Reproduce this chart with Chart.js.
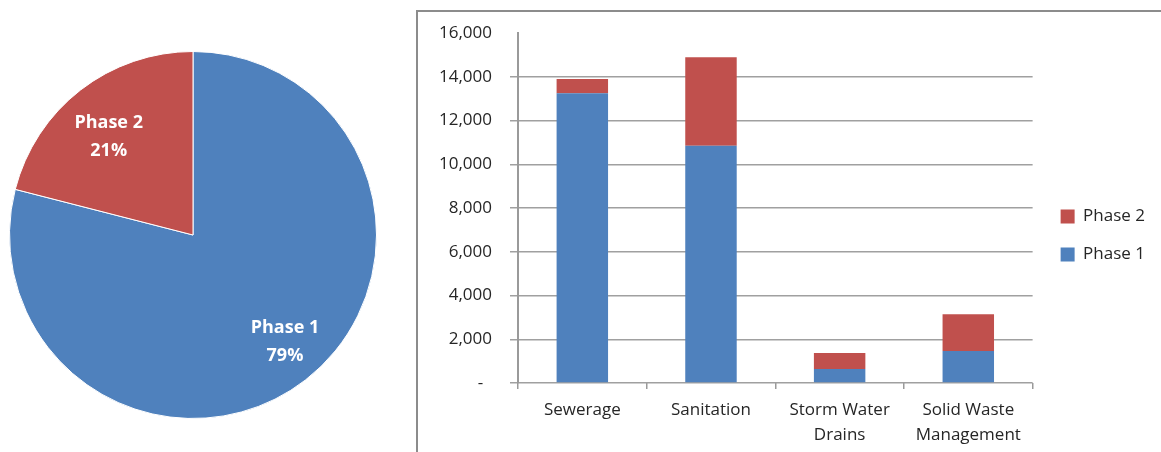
<!DOCTYPE html>
<html>
<head>
<meta charset="utf-8">
<script src="https://cdn.jsdelivr.net/npm/chart.js@4.4.1/dist/chart.umd.min.js"></script>
<style>
  html, body { margin: 0; padding: 0; background: #fff; width: 1161px; height: 452px; overflow: hidden; }
  #pie-wrap { position: absolute; left: 8px; top: 50px; width: 370px; height: 370px; }
  #frame { position: absolute; left: 416px; top: 10px; width: 800px; height: 500px; border: 2px solid #8c8c8c; box-sizing: border-box; }
  #bar-wrap { position: absolute; left: 420px; top: 5px; width: 741px; height: 447px; }
</style>
</head>
<body>
<div id="pie-wrap"><canvas id="pieChart"></canvas></div>
<div id="frame"></div>
<div id="bar-wrap"><canvas id="barChart"></canvas></div>
<script>
// Data
const categories = ['Sewerage', 'Sanitation', ['Storm Water', 'Drains'], ['Solid Waste', 'Management']];
const phase1 = [13250, 10850, 640, 1460];
const phase2 = [650, 4050, 730, 1690];
const pieLabels = ['Phase 1', 'Phase 2'];
const pieShares = [79, 21];
const yTicks = [0, 2000, 4000, 6000, 8000, 10000, 12000, 14000, 16000];

const BLUE = '#4f81bd';
const RED = '#c0504d';
const TEXT = '#262626';
const FONT = "'Open Sans', 'Noto Sans', sans-serif";

// white labels inside pie slices
const sliceLabels = {
  id: 'sliceLabels',
  afterDatasetsDraw(chart) {
    const ctx = chart.ctx;
    const meta = chart.getDatasetMeta(0);
    ctx.save();
    ctx.fillStyle = '#fff';
    ctx.font = `bold 18px ${FONT}`;
    ctx.textAlign = 'center';
    ctx.textBaseline = 'middle';
    meta.data.forEach((arc, i) => {
      const p = arc.getProps(['x', 'y', 'startAngle', 'endAngle', 'outerRadius']);
      // excel-ish placement: a bit before the mid angle, bigger slices further out
      const mid = (p.startAngle + p.endAngle) / 2 - 3 * Math.PI / 180;
      const r = p.outerRadius * (0.68 + 0.11 * pieShares[i] / 100);
      const x = p.x + Math.cos(mid) * r;
      const y = p.y + Math.sin(mid) * r;
      ctx.fillText(pieLabels[i], x, y - 14);
      ctx.fillText(pieShares[i] + '%', x, y + 14);
    });
    ctx.restore();
  }
};

// nudge the legend a little without touching the plot area
const legendNudge = {
  id: 'legendNudge',
  afterLayout(chart) {
    const lg = chart.legend;
    if (!lg) return;
    lg.left += 7; lg.right += 7;
    lg.top += 7; lg.bottom += 7;
  }
};

new Chart(document.getElementById('pieChart'), {
  type: 'pie',
  data: {
    labels: pieLabels,
    datasets: [{ data: pieShares, backgroundColor: [BLUE, RED], borderColor: '#fff', borderWidth: 1 }]
  },
  options: {
    responsive: true,
    maintainAspectRatio: false,
    animation: false,
    layout: { padding: 1 },
    plugins: { legend: { display: false }, tooltip: { enabled: false } }
  },
  plugins: [sliceLabels]
});

new Chart(document.getElementById('barChart'), {
  type: 'bar',
  data: {
    labels: categories,
    datasets: [
      { label: 'Phase 1', data: phase1, backgroundColor: BLUE },
      { label: 'Phase 2', data: phase2, backgroundColor: RED }
    ]
  },
  options: {
    responsive: true,
    maintainAspectRatio: false,
    animation: false,
    categoryPercentage: 1,
    barPercentage: 0.4,
    layout: { padding: { top: 0, right: 13, left: 0, bottom: 0 } },
    plugins: {
      tooltip: { enabled: false },
      legend: {
        position: 'right',
        reverse: true,
        labels: {
          boxWidth: 14, boxHeight: 14, padding: 21, color: TEXT,
          font: { family: FONT, size: 17 }
        }
      }
    },
    scales: {
      x: {
        stacked: true,
        grid: { offset: true, drawOnChartArea: false, tickLength: 6, color: '#9a9a9a', lineWidth: 1.5 },
        border: { display: false },
        ticks: { color: TEXT, padding: 8, font: { family: FONT, size: 17, lineHeight: 1.5 }, maxRotation: 0 },
        afterFit: s => { s.height = 69; }
      },
      y: {
        stacked: true,
        min: 0,
        max: 16000,
        afterBuildTicks: s => { s.ticks = yTicks.map(v => ({ value: v })); },
        grid: { color: ctx => ctx.tick && ctx.tick.value === 16000 ? 'rgba(0,0,0,0)' : '#a0a0a0', lineWidth: 1.5, tickLength: 8 },
        border: { color: '#9a9a9a', width: 2 },
        ticks: {
          color: TEXT, padding: 18, font: { family: FONT, size: 17 },
          callback: v => v === 0 ? '-  ' : v.toLocaleString('en-US')
        },
        afterFit: s => { s.width = 98; }
      }
    }
  },
  plugins: [legendNudge]
});
</script>
</body>
</html>
